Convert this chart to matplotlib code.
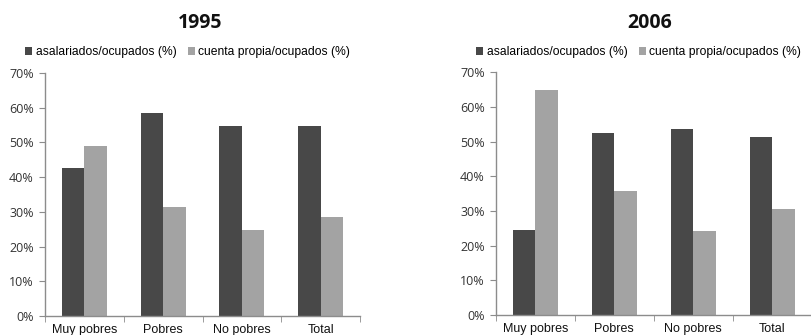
import matplotlib
matplotlib.use("Agg")
import matplotlib.pyplot as plt
from matplotlib import font_manager
import numpy as np
from matplotlib.patches import Patch

categories = ["Muy pobres", "Pobres", "No pobres", "Total"]
series_names = ["asalariados/ocupados (%)", "cuenta propia/ocupados (%)"]
years = ["1995", "2006"]
asal_1995 = [42.7, 58.4, 54.7, 54.8]
cp_1995 = [49.0, 31.3, 24.7, 28.4]
asal_2006 = [24.4, 52.4, 53.6, 51.3]
cp_2006 = [65.0, 35.9, 24.2, 30.5]
yticks = [0, 10, 20, 30, 40, 50, 60, 70]

dark = "#484848"
light = "#a3a3a3"
spine_c = "#8c8c8c"

try:
    font_manager.findfont("Liberation Sans Narrow", fallback_to_default=False)
    leg_family, leg_size = "Liberation Sans Narrow", 10.5
except Exception:
    leg_family, leg_size = "Liberation Sans", 8.7

fig = plt.figure(figsize=(8.11, 3.35), dpi=100)
axes_pos = [[45/811, 19/335, 315/811, 243/335],
            [495.7/811, 20/335, 316/811, 242.7/335]]
title_x = [200/811, 650/811]
legend_x = [25/811, 476/811]
data = [(asal_1995, cp_1995), (asal_2006, cp_2006)]

bw = 0.286
for i in range(2):
    ax = fig.add_axes(axes_pos[i])
    x = np.arange(len(categories))
    a, c = data[i]
    ax.bar(x - bw/2, a, bw, color=dark, zorder=2)
    ax.bar(x + bw/2, c, bw, color=light, zorder=2)
    ax.set_xlim(-0.5, 3.5)
    ax.set_ylim(0, 70)
    ax.set_yticks(yticks)
    ax.set_yticklabels([f"{v}%" for v in yticks], fontsize=9, family="Open Sans", color="#333333")
    ax.set_xticks(x)
    ax.set_xticklabels(categories, fontsize=9, family="Liberation Sans", color="#111111")
    ax.set_xticks(np.arange(-0.5, 4.0, 1.0), minor=True)
    ax.tick_params(axis="x", which="major", length=0, pad=6)
    ax.tick_params(axis="x", which="minor", length=4, color=spine_c, direction="out")
    ax.tick_params(axis="y", length=4, color=spine_c, direction="out", pad=4)
    for s in ["top", "right"]:
        ax.spines[s].set_visible(False)
    for s in ["left", "bottom"]:
        ax.spines[s].set_color(spine_c)
        ax.spines[s].set_linewidth(1.0)
    fig.text(title_x[i], 1 - 23/335, years[i], ha="center", va="center",
             fontsize=14, fontweight="bold", family="Open Sans", color="#111111")
    handles = [Patch(facecolor=dark), Patch(facecolor=light)]
    fig.legend(handles, series_names, loc="center left",
               bbox_to_anchor=(legend_x[i], 1 - 52/335), ncol=2, frameon=False,
               handlelength=0.6, handleheight=0.6, handletextpad=0.3,
               columnspacing=0.9, borderaxespad=0, borderpad=0,
               prop={"family": leg_family, "size": leg_size})

fig.savefig("out.png", dpi=100)
